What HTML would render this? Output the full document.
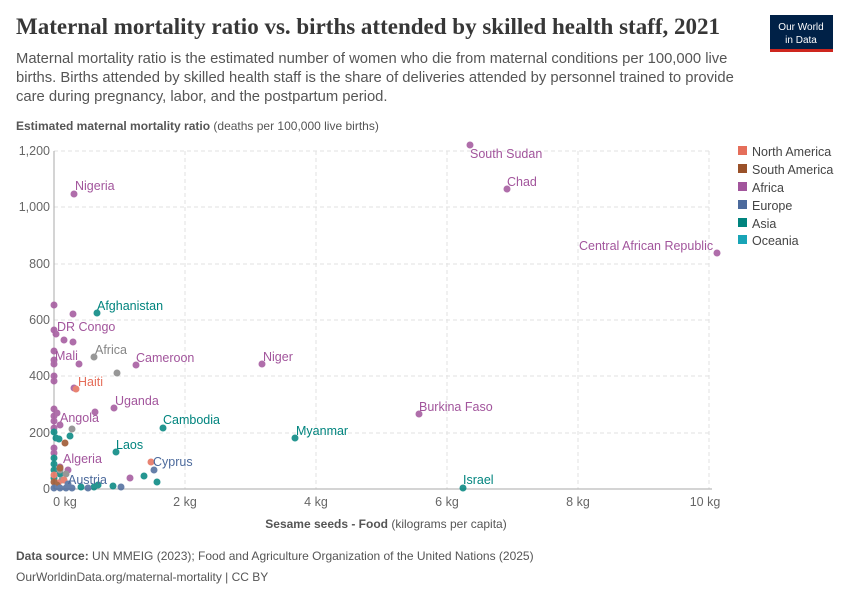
<!DOCTYPE html>
<html><head><meta charset="utf-8"><style>
body{margin:0;background:#fff;width:850px;height:600px;overflow:hidden;font-family:"Liberation Sans",sans-serif}
</style></head><body>
<svg width="850" height="600" xmlns="http://www.w3.org/2000/svg" font-family="Liberation Sans, sans-serif">
<text x="16" y="34" font-family="Liberation Serif, serif" font-size="23" font-weight="bold" fill="#373737">Maternal mortality ratio vs. births attended by skilled health staff, 2021</text>
<rect x="770" y="15" width="63" height="36" fill="#002147"/><rect x="770" y="49" width="63" height="3" fill="#ce261e"/>
<text x="801" y="30" font-size="10" fill="#fff" text-anchor="middle">Our World</text>
<text x="801" y="43" font-size="10" fill="#fff" text-anchor="middle">in Data</text>
<g font-size="14.8" fill="#555">
<text x="16" y="63">Maternal mortality ratio is the estimated number of women who die from maternal conditions per 100,000 live</text>
<text x="16" y="82">births. Births attended by skilled health staff is the share of deliveries attended by personnel trained to provide</text>
<text x="16" y="101">care during pregnancy, labor, and the postpartum period.</text>
</g>
<text x="16" y="130" font-size="12" fill="#555"><tspan font-weight="bold">Estimated maternal mortality ratio</tspan> (deaths per 100,000 live births)</text>
<g stroke="#e2e2e2" stroke-dasharray="4,3">
<line x1="54" x2="712" y1="151" y2="151"/><line x1="54" x2="712" y1="207" y2="207"/><line x1="54" x2="712" y1="264" y2="264"/><line x1="54" x2="712" y1="320" y2="320"/><line x1="54" x2="712" y1="376" y2="376"/><line x1="54" x2="712" y1="433" y2="433"/>
<line x1="185" x2="185" y1="151" y2="489"/><line x1="316" x2="316" y1="151" y2="489"/><line x1="447" x2="447" y1="151" y2="489"/><line x1="578" x2="578" y1="151" y2="489"/><line x1="709" x2="709" y1="151" y2="489"/>
</g>
<line x1="54" x2="54" y1="151" y2="489" stroke="#aaa"/>
<line x1="54" x2="712" y1="489" y2="489" stroke="#aaa"/>
<g font-size="12.5" fill="#666" text-anchor="end">
<text x="50" y="155">1,200</text><text x="50" y="211">1,000</text><text x="50" y="268">800</text><text x="50" y="324">600</text><text x="50" y="380">400</text><text x="50" y="437">200</text><text x="50" y="493">0</text>
</g>
<g font-size="12.5" fill="#666" text-anchor="middle">
<text x="65" y="506">0 kg</text><text x="185" y="506">2 kg</text><text x="316" y="506">4 kg</text><text x="447" y="506">6 kg</text><text x="578" y="506">8 kg</text><text x="705" y="506">10 kg</text>
</g>
<text x="386" y="528" font-size="12" fill="#555" text-anchor="middle"><tspan font-weight="bold">Sesame seeds - Food</tspan> (kilograms per capita)</text>
<g opacity="0.85">
<g fill="#a2559c">
<circle cx="470" cy="145" r="3.5"/><circle cx="507" cy="189" r="3.5"/><circle cx="717" cy="253" r="3.5"/><circle cx="74" cy="194" r="3.5"/><circle cx="262" cy="364" r="3.5"/><circle cx="419" cy="414" r="3.5"/>
<circle cx="54" cy="305" r="3.5"/><circle cx="73" cy="314" r="3.5"/><circle cx="54" cy="330" r="3.5"/><circle cx="56" cy="334" r="3.5"/><circle cx="64" cy="340" r="3.5"/><circle cx="73" cy="342" r="3.5"/>
<circle cx="54" cy="351" r="3.5"/><circle cx="54" cy="360" r="3.5"/><circle cx="79" cy="364" r="3.5"/><circle cx="54" cy="364" r="3.5"/><circle cx="136" cy="365" r="3.5"/><circle cx="54" cy="376" r="3.5"/><circle cx="54" cy="381" r="3.5"/>
<circle cx="74" cy="388" r="3.5"/><circle cx="114" cy="408" r="3.5"/><circle cx="54" cy="409" r="3.5"/><circle cx="95" cy="412" r="3.5"/><circle cx="57" cy="413" r="3.5"/><circle cx="54" cy="416" r="3.5"/><circle cx="54" cy="421" r="3.5"/><circle cx="60" cy="425" r="3.5"/><circle cx="54" cy="428" r="3.5"/>
<circle cx="54" cy="448" r="3.5"/><circle cx="54" cy="453" r="3.5"/><circle cx="130" cy="478" r="3.5"/><circle cx="60" cy="467" r="3.5"/><circle cx="68" cy="470" r="3.5"/>
</g>
<g fill="#00847e">
<circle cx="97" cy="313" r="3.5"/><circle cx="295" cy="438" r="3.5"/><circle cx="463" cy="488" r="3.5"/><circle cx="163" cy="428" r="3.5"/><circle cx="116" cy="452" r="3.5"/>
<circle cx="54" cy="432" r="3.5"/><circle cx="56" cy="438" r="3.5"/><circle cx="59" cy="439" r="3.5"/><circle cx="70" cy="436" r="3.5"/><circle cx="54" cy="458" r="3.5"/><circle cx="54" cy="464" r="3.5"/><circle cx="54" cy="470" r="3.5"/><circle cx="144" cy="476" r="3.5"/><circle cx="157" cy="482" r="3.5"/><circle cx="113" cy="486" r="3.5"/><circle cx="81" cy="487" r="3.5"/><circle cx="94" cy="487" r="3.5"/><circle cx="98" cy="485" r="3.5"/><circle cx="60" cy="474" r="3.5"/><circle cx="54" cy="478" r="3.5"/>
</g>
<g fill="#858585">
<circle cx="94" cy="357" r="3.5"/><circle cx="117" cy="373" r="3.5"/><circle cx="72" cy="429" r="3.5"/><circle cx="60" cy="470" r="3.5"/><circle cx="66" cy="474" r="3.5"/><circle cx="62" cy="480" r="3.5"/>
</g>
<g fill="#e56e5a">
<circle cx="76" cy="389" r="3.5"/><circle cx="151" cy="462" r="3.5"/><circle cx="54" cy="475" r="3.5"/><circle cx="58" cy="483" r="3.5"/><circle cx="64" cy="480" r="3.5"/>
</g>
<g fill="#9a5129"><circle cx="65" cy="443" r="3.5"/><circle cx="57" cy="485" r="3.5"/><circle cx="60" cy="468" r="3.5"/><circle cx="54" cy="482" r="3.5"/></g>
<g fill="#4c6a9c">
<circle cx="154" cy="470" r="3.5"/><circle cx="121" cy="487" r="3.5"/><circle cx="88" cy="488" r="3.5"/><circle cx="54" cy="488" r="3.5"/><circle cx="60" cy="488" r="3.5"/><circle cx="66" cy="488" r="3.5"/><circle cx="72" cy="488" r="3.5"/><circle cx="68" cy="484" r="3.5"/>
</g>
</g>
<g font-size="12.5">
<text x="470" y="158" fill="#a2559c">South Sudan</text><text x="507" y="186" fill="#a2559c">Chad</text>
<text x="579" y="250" fill="#a2559c">Central African Republic</text><text x="75" y="190" fill="#a2559c">Nigeria</text>
<text x="263" y="361" fill="#a2559c">Niger</text><text x="419" y="411" fill="#a2559c">Burkina Faso</text>
<text x="296" y="435" fill="#00847e">Myanmar</text><text x="463" y="484" fill="#00847e">Israel</text>
<text x="97" y="310" fill="#00847e">Afghanistan</text><text x="57" y="331" fill="#a2559c">DR Congo</text>
<text x="55" y="360" fill="#a2559c">Mali</text><text x="95" y="354" fill="#858585">Africa</text>
<text x="136" y="362" fill="#a2559c">Cameroon</text><text x="78" y="386" fill="#e56e5a">Haiti</text>
<text x="115" y="405" fill="#a2559c">Uganda</text><text x="60" y="422" fill="#a2559c">Angola</text>
<text x="163" y="424" fill="#00847e">Cambodia</text><text x="116" y="449" fill="#00847e">Laos</text>
<text x="63" y="463" fill="#a2559c">Algeria</text><text x="153" y="466" fill="#4c6a9c">Cyprus</text>
<text x="68" y="484" fill="#4c6a9c">Austria</text>
</g>
<g font-size="12.5" fill="#444">
<rect x="738" y="146" width="9" height="9" fill="#e56e5a"/><text x="752" y="156">North America</text>
<rect x="738" y="164" width="9" height="9" fill="#9a5129"/><text x="752" y="174">South America</text>
<rect x="738" y="182" width="9" height="9" fill="#a2559c"/><text x="752" y="192">Africa</text>
<rect x="738" y="200" width="9" height="9" fill="#4c6a9c"/><text x="752" y="210">Europe</text>
<rect x="738" y="218" width="9" height="9" fill="#00847e"/><text x="752" y="228">Asia</text>
<rect x="738" y="235" width="9" height="9" fill="#18a4b6"/><text x="752" y="245">Oceania</text>
</g>
<text x="16" y="560" font-size="12" fill="#555"><tspan font-weight="bold">Data source:</tspan> UN MMEIG (2023); Food and Agriculture Organization of the United Nations (2025)</text>
<text x="16" y="581" font-size="12" fill="#555">OurWorldinData.org/maternal-mortality | CC BY</text>
</svg>
</body></html>
